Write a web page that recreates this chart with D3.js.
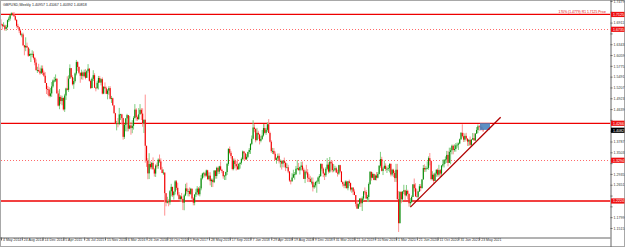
<!DOCTYPE html>
<html><head><meta charset="utf-8">
<script src="https://cdn.jsdelivr.net/npm/d3@7"></script>
<style>html,body{margin:0;padding:0;background:#fff;}svg{display:block;font-family:"Liberation Sans",Arial,sans-serif;}</style>
</head><body><svg id="c" width="625" height="247"></svg>
<script>
const titleText = "GBPUSD,Weekly  1.40957 1.41067 1.40392 1.40818";
const firstOpen = 1.6880;
const closes = [1.6865,1.6815,1.6835,1.6745,1.6795,1.6975,1.7015,1.7105,1.7155,1.7110,
1.7080,1.6985,1.6825,1.6790,1.6700,1.6590,1.6600,1.6315,1.6260,1.6300,
1.6255,1.6040,1.6085,1.6085,1.6090,1.5985,1.5860,1.5665,1.5665,1.5635,
1.5580,1.5705,1.5595,1.5515,1.5325,1.5165,1.5155,1.4985,1.5050,1.5235,
1.5390,1.5390,1.5435,1.5050,1.4730,1.4960,1.4850,1.4930,1.4630,1.4995,
1.5180,1.5145,1.5440,1.5715,1.5480,1.5290,1.5375,1.5575,1.5875,1.5745,
1.5595,1.5515,1.5600,1.5505,1.5605,1.5460,1.5635,1.5700,1.5380,1.5190,
1.5435,1.5530,1.5200,1.5190,1.5330,1.5455,1.5335,1.5425,1.5045,1.5225,
1.5185,1.5040,1.5125,1.5190,1.4910,1.4925,1.4735,1.4530,1.4250,1.4265,
1.4245,1.4500,1.4500,1.4400,1.3910,1.4225,1.4395,1.4480,1.4125,1.4210,
1.4140,1.4200,1.4405,1.4625,1.4425,1.4375,1.4500,1.4620,1.4520,1.4265,
1.4360,1.3675,1.3285,1.2950,1.3195,1.3110,1.3225,1.3055,1.2945,1.3155,
1.3145,1.3310,1.3265,1.3050,1.2960,1.2970,1.2430,1.2180,1.2215,1.2190,
1.2480,1.2595,1.2375,1.2470,1.2740,1.2570,1.2390,1.2275,1.2345,1.2280,
1.2180,1.2370,1.2555,1.2480,1.2485,1.2410,1.2545,1.2290,1.2180,1.2395,
1.2450,1.2550,1.2400,1.2555,1.2820,1.2945,1.2950,1.2890,1.3030,1.2800,
1.2890,1.2745,1.2780,1.2720,1.3025,1.2880,1.3095,1.2995,1.3135,1.3045,
1.3010,1.2875,1.2890,1.2985,1.3200,1.3590,1.3490,1.3405,1.3065,1.3285,
1.3195,1.3135,1.3060,1.3195,1.3230,1.3325,1.3525,1.3475,1.3320,1.3385,
1.3510,1.3565,1.3725,1.3860,1.4155,1.4115,1.3820,1.4015,1.3970,1.3805,
1.3855,1.3945,1.4140,1.4015,1.4095,1.4240,1.4010,1.3780,1.3535,1.3540,
1.3465,1.3305,1.3345,1.3410,1.3270,1.3270,1.3205,1.3285,1.3225,1.3105,
1.3110,1.3000,1.2760,1.2745,1.2840,1.2925,1.2925,1.3070,1.3085,1.3030,
1.3120,1.3155,1.3045,1.2805,1.2995,1.2975,1.2835,1.2805,1.2725,1.2730,
1.2585,1.2635,1.2725,1.2735,1.2840,1.2880,1.3195,1.3075,1.2945,1.2900,
1.3070,1.3180,1.2995,1.3255,1.3210,1.3035,1.3045,1.3085,1.2970,1.2945,
1.3165,1.3000,1.2720,1.2665,1.2625,1.2735,1.2560,1.2740,1.2695,1.2525,
1.2575,1.2470,1.2380,1.2150,1.2025,1.2140,1.2290,1.2165,1.2290,1.2475,
1.2460,1.2290,1.2330,1.2670,1.2990,1.2835,1.2935,1.2775,1.2895,1.2835,
1.2935,1.3150,1.3325,1.3015,1.3075,1.3150,1.3065,1.3070,1.3085,1.3200,
1.2920,1.3045,1.2960,1.2825,1.3045,1.2270,1.1640,1.2460,1.2270,1.2470,
1.2505,1.2370,1.2490,1.2410,1.2165,1.2200,1.2330,1.2660,1.2560,1.2345,
1.2335,1.2475,1.2610,1.2565,1.2790,1.3090,1.3055,1.3085,1.3095,1.3350,
1.3275,1.2800,1.2915,1.2750,1.2945,1.3045,1.2915,1.3035,1.2945,1.3155,
1.3190,1.3310,1.3315,1.3435,1.3225,1.3515,1.3555,1.3675,1.3565,1.3590,
1.3685,1.3705,1.3735,1.3845,1.4015,1.3925,1.3835,1.3935,1.3865,1.3785,
1.3830,1.3700,1.3840,1.3875,1.3815,1.3995,1.4090,1.4185,1.4180,1.4165,
1.4110,1.4082];
const highs = [1.6996,1.6880,1.6920,1.6860,1.6850,1.6990,1.7065,1.7110,1.7180,1.7180,
1.7190,1.7105,1.6995,1.6880,1.6800,1.6740,1.6645,1.6645,1.6320,1.6525,
1.6385,1.6265,1.6225,1.6110,1.6185,1.6155,1.6010,1.5945,1.5750,1.5830,
1.5730,1.5785,1.5785,1.5650,1.5610,1.5320,1.5250,1.5220,1.5195,1.5350,
1.5420,1.5485,1.5550,1.5450,1.5125,1.5165,1.5005,1.4990,1.4950,1.5040,
1.5200,1.5500,1.5525,1.5815,1.5710,1.5525,1.5465,1.5600,1.5930,1.5895,
1.5760,1.5570,1.5675,1.5630,1.5675,1.5690,1.5660,1.5820,1.5720,1.5415,
1.5470,1.5660,1.5580,1.5220,1.5385,1.5510,1.5510,1.5445,1.5470,1.5240,
1.5340,1.5230,1.5165,1.5240,1.5240,1.4985,1.4940,1.4745,1.4540,1.4330,
1.4405,1.4670,1.4515,1.4515,1.4410,1.4245,1.4400,1.4515,1.4455,1.4460,
1.4300,1.4350,1.4450,1.4770,1.4665,1.4470,1.4665,1.4770,1.4665,1.4660,
1.4355,1.5020,1.3535,1.3350,1.3480,1.3265,1.3255,1.3370,1.3090,1.3190,
1.3235,1.3345,1.3445,1.3345,1.3120,1.3055,1.2975,1.2420,1.2335,1.2270,
1.2510,1.2675,1.2575,1.2480,1.2775,1.2775,1.2705,1.2460,1.2380,1.2435,
1.2280,1.2415,1.2675,1.2705,1.2545,1.2580,1.2570,1.2555,1.2325,1.2400,
1.2545,1.2615,1.2590,1.2615,1.2905,1.2965,1.2990,1.2990,1.3050,1.3045,
1.2975,1.2980,1.2815,1.2815,1.3030,1.3030,1.3125,1.3125,1.3150,1.3265,
1.3070,1.3000,1.2900,1.2995,1.3225,1.3615,1.3655,1.3540,1.3400,1.3340,
1.3340,1.3280,1.3320,1.3215,1.3240,1.3365,1.3550,1.3535,1.3490,1.3455,
1.3520,1.3615,1.3740,1.3945,1.4345,1.4240,1.4140,1.4145,1.4070,1.3990,
1.3930,1.4090,1.4245,1.4245,1.4145,1.4290,1.4377,1.4045,1.3820,1.3620,
1.3615,1.3525,1.3370,1.3470,1.3475,1.3315,1.3305,1.3290,1.3365,1.3260,
1.3215,1.3175,1.3005,1.2780,1.2955,1.3045,1.2985,1.3145,1.3300,1.3225,
1.3125,1.3255,1.3260,1.3100,1.3045,1.3175,1.3060,1.2930,1.2885,1.2840,
1.2840,1.2700,1.2735,1.2765,1.2865,1.2930,1.3215,1.3215,1.3105,1.2970,
1.3110,1.3350,1.3240,1.3380,1.3290,1.3285,1.3195,1.3150,1.3125,1.3045,
1.3175,1.3175,1.3000,1.2745,1.2710,1.2765,1.2760,1.2750,1.2785,1.2710,
1.2580,1.2590,1.2530,1.2380,1.2250,1.2160,1.2275,1.2310,1.2345,1.2480,
1.2580,1.2515,1.2385,1.2710,1.3010,1.2995,1.2975,1.2940,1.2925,1.2985,
1.2985,1.3165,1.3515,1.3385,1.3115,1.3285,1.3215,1.3120,1.3170,1.3215,
1.3210,1.3070,1.3070,1.3015,1.3200,1.3200,1.2485,1.2485,1.2485,1.2485,
1.2650,1.2520,1.2645,1.2520,1.2425,1.2300,1.2370,1.2670,1.2815,1.2690,
1.2545,1.2490,1.2670,1.2670,1.2800,1.3170,1.3185,1.3140,1.3265,1.3395,
1.3485,1.3285,1.3005,1.2955,1.2975,1.3055,1.3080,1.3175,1.3065,1.3165,
1.3310,1.3310,1.3395,1.3540,1.3540,1.3625,1.3625,1.3705,1.3705,1.3710,
1.3745,1.3760,1.3760,1.3865,1.4035,1.4240,1.4015,1.4000,1.4015,1.3865,
1.3850,1.3920,1.3840,1.4010,1.4005,1.4005,1.4165,1.4235,1.4220,1.4250,
1.4215,1.4135];
const lows = [1.6850,1.6730,1.6805,1.6695,1.6695,1.6760,1.6925,1.6960,1.7100,1.7090,
1.7060,1.6955,1.6780,1.6740,1.6635,1.6570,1.6525,1.6300,1.6052,1.6160,
1.6250,1.6010,1.6030,1.5875,1.6000,1.5940,1.5790,1.5645,1.5590,1.5610,
1.5540,1.5560,1.5535,1.5485,1.5325,1.5035,1.5005,1.4950,1.4950,1.4960,
1.5200,1.5340,1.5350,1.5070,1.4710,1.4635,1.4770,1.4740,1.4600,1.4565,
1.4880,1.5130,1.5090,1.5435,1.5450,1.5260,1.5170,1.5335,1.5525,1.5640,
1.5565,1.5330,1.5420,1.5410,1.5475,1.5420,1.5525,1.5595,1.5360,1.5165,
1.5235,1.5375,1.5200,1.5105,1.5160,1.5155,1.5330,1.5260,1.5025,1.5030,
1.5170,1.5030,1.4895,1.5015,1.4895,1.4800,1.4735,1.4520,1.4240,1.4080,
1.4160,1.4215,1.4350,1.4230,1.3835,1.3855,1.4055,1.4050,1.4055,1.4110,
1.3965,1.4005,1.4100,1.4385,1.4330,1.4330,1.4355,1.4505,1.4350,1.4175,
1.4010,1.3230,1.3120,1.2795,1.2800,1.3060,1.3055,1.3055,1.2865,1.2855,
1.3075,1.3070,1.3225,1.3055,1.2955,1.2910,1.1840,1.2085,1.2160,1.2085,
1.2125,1.2345,1.2330,1.2260,1.2395,1.2510,1.2350,1.2250,1.2200,1.2200,
1.1985,1.1980,1.2350,1.2410,1.2345,1.2345,1.2385,1.2255,1.2110,1.2110,
1.2330,1.2375,1.2365,1.2345,1.2505,1.2790,1.2840,1.2845,1.2860,1.2775,
1.2770,1.2635,1.2590,1.2590,1.2695,1.2810,1.2810,1.2930,1.2935,1.3020,
1.2955,1.2810,1.2775,1.2775,1.2910,1.3150,1.3450,1.3340,1.3030,1.3030,
1.3090,1.3025,1.3040,1.3040,1.3075,1.3180,1.3290,1.3300,1.3300,1.3300,
1.3355,1.3460,1.3460,1.3690,1.3845,1.4030,1.3765,1.3845,1.3855,1.3710,
1.3765,1.3830,1.3915,1.3990,1.3960,1.4045,1.4005,1.3760,1.3490,1.3460,
1.3445,1.3305,1.3205,1.3295,1.3210,1.3105,1.3050,1.3110,1.3105,1.3010,
1.3085,1.2955,1.2725,1.2660,1.2725,1.2825,1.2785,1.2910,1.3035,1.3030,
1.2920,1.3025,1.3005,1.2800,1.2695,1.2920,1.2725,1.2720,1.2720,1.2660,
1.2475,1.2545,1.2580,1.2440,1.2675,1.2670,1.2855,1.3005,1.2850,1.2775,
1.2855,1.3035,1.2945,1.2960,1.3000,1.2975,1.2980,1.3010,1.2970,1.2865,
1.2910,1.2970,1.2720,1.2605,1.2560,1.2560,1.2555,1.2505,1.2615,1.2475,
1.2440,1.2380,1.2380,1.2080,1.2015,1.2015,1.2075,1.2065,1.1960,1.2235,
1.2390,1.2270,1.2200,1.2195,1.2645,1.2760,1.2820,1.2770,1.2765,1.2765,
1.2820,1.2920,1.3100,1.3000,1.2905,1.3070,1.3010,1.2960,1.3010,1.2975,
1.2870,1.2875,1.2850,1.2725,1.2725,1.2265,1.1410,1.1640,1.2165,1.2205,
1.2405,1.2245,1.2345,1.2265,1.2075,1.2075,1.2165,1.2350,1.2470,1.2335,
1.2335,1.2250,1.2460,1.2480,1.2545,1.2790,1.2985,1.2990,1.3055,1.3045,
1.3160,1.2765,1.2765,1.2675,1.2765,1.2860,1.2865,1.2865,1.2855,1.2855,
1.3110,1.3105,1.3205,1.3225,1.3135,1.3225,1.3190,1.3450,1.3450,1.3520,
1.3520,1.3625,1.3565,1.3715,1.3830,1.3890,1.3775,1.3780,1.3810,1.3670,
1.3670,1.3670,1.3670,1.3825,1.3820,1.3800,1.3990,1.4005,1.4070,1.4080,
1.4080,1.4040];

const dateTickIdx = [0,16,32,48,64,80,96,112,128,144,160,176,192,208,224,240,256,272,288,304,320,336,352,368];
const dateTickLabels = ["4 May 2014","24 Aug 2014","14 Dec 2014","5 Apr 2015","26 Jul 2015","15 Nov 2015","6 Mar 2016","26 Jun 2016","16 Oct 2016","5 Feb 2017","28 May 2017","17 Sep 2017","7 Jan 2018","29 Apr 2018","19 Aug 2018","9 Dec 2018","31 Mar 2019","21 Jul 2019","10 Nov 2019","1 Mar 2020","21 Jun 2020","11 Oct 2020","31 Jan 2021","23 May 2021"];
const priceTicks = [1.7479,1.7195,1.6911,1.6627,1.6343,1.6059,1.5775,1.5491,1.5207,1.4923,1.4639,1.4355,1.4071,1.3787,1.3503,1.3219,1.2935,1.2651,1.2367,1.2083,1.1799,1.1515];
const levelPrices = [1.7125,1.6735,1.4266,1.3294,1.2224];
const levelDotted = [false,true,false,true,false];
const levelNote = "170%  (1.4779)  R1  1.7125  Price";
const trendIdx = [315, 384.5];
const trendPrice = [1.2062, 1.4425];
const boxIdx = [368.6, 376.3];
const boxPrice = [1.4270, 1.4092];

const svg = d3.select("#c");
const W = 625, H = 247, plotL = 1, plotR = 610.5, plotB = 237.5;
const x = d3.scaleLinear().domain([0, 368]).range([1, 479.2]);
const y = d3.scaleLinear().domain([1.1278, 1.7505]).range([237, 0]);
const snap = v => Math.round(v) + 0.5;

svg.append("rect").attr("x",0.5).attr("y",0.5).attr("width",W-1).attr("height",H-1).attr("fill","#fff").attr("stroke","#a8a8a8");

const plot = svg.append("g");
plot.append("clipPath").attr("id","pc").append("rect").attr("x",plotL).attr("y",1).attr("width",plotR-plotL).attr("height",plotB-1);
const pg = plot.append("g").attr("clip-path","url(#pc)");

// horizontal levels
levelPrices.forEach((p,k)=>{
  const yy = levelDotted[k] ? snap(y(p)) : y(p);
  pg.append("line").attr("x1",plotL).attr("x2",plotR).attr("y1",yy).attr("y2",yy)
    .attr("stroke", levelDotted[k] ? "#ff6a6a" : "#ee0000")
    .attr("stroke-width", levelDotted[k] ? 1 : 1.3)
    .attr("stroke-dasharray", levelDotted[k] ? "1,2" : null);
});

// candles
const data = closes.map((c,i)=>({i, o: i===0?firstOpen:closes[i-1], c, h: highs[i], l: lows[i]}));
const cg = pg.append("g");
cg.selectAll("line.w").data(data).join("line").attr("class","w")
  .attr("x1",d=>x(d.i)).attr("x2",d=>x(d.i))
  .attr("y1",d=>y(Math.max(d.h,d.o,d.c))).attr("y2",d=>y(Math.min(d.l,d.o,d.c)))
  .attr("stroke",d=>d.c>=d.o?"#7fcc7f":"#ff9090").attr("stroke-width",1);
cg.selectAll("rect.b").data(data).join("rect").attr("class","b")
  .attr("x",d=>x(d.i)-0.55).attr("width",1.1)
  .attr("y",d=>y(Math.max(d.o,d.c)))
  .attr("height",d=>Math.max(0.8, Math.abs(y(d.o)-y(d.c))))
  .attr("fill",d=>d.c>=d.o?"#078807":"#f00000");

// box
pg.append("rect").attr("x",x(boxIdx[0])).attr("width",x(boxIdx[1])-x(boxIdx[0]))
  .attr("y",y(boxPrice[0])).attr("height",y(boxPrice[1])-y(boxPrice[0]))
  .attr("fill","#4a84bf").attr("opacity",0.9);

// trend line
pg.append("line").attr("x1",x(trendIdx[0])).attr("y1",y(trendPrice[0]))
  .attr("x2",x(trendIdx[1])).attr("y2",y(trendPrice[1]))
  .attr("stroke","#b00000").attr("stroke-width",1.3);

// level note
pg.append("text").attr("x",606).attr("y",y(levelPrices[0])-1.2).attr("text-anchor","end")
  .attr("font-size",3.4).attr("fill","#e00000").text(levelNote);

// title
svg.append("text").attr("x",3).attr("y",5.5).attr("font-size",3.6).attr("fill","#222").text(titleText);

// bottom axis
const xa = svg.append("g").attr("transform",`translate(0,${plotB})`)
  .call(d3.axisBottom(x).tickValues(dateTickIdx).tickSize(3).tickFormat((d,k)=>dateTickLabels[k]));
xa.select(".domain").attr("d",`M0,0.5H${plotR}`).attr("stroke","#666");
xa.selectAll(".tick line").attr("stroke","#666");
xa.selectAll(".tick text").attr("text-anchor","start").attr("dx",1.5).attr("y",1.2).attr("dy","0.71em")
  .attr("font-size",3.5).attr("fill","#333").attr("font-family","Liberation Sans, Arial, sans-serif");

// right axis
const last = closes[closes.length-1];
const labelled = levelPrices.concat([last]);
const ya = svg.append("g").attr("transform",`translate(${plotR},0)`)
  .call(d3.axisRight(y).tickValues(priceTicks).tickSize(2).tickFormat(d3.format(".4f")));
ya.select(".domain").attr("d",`M0.5,0V${H}`).attr("stroke","#666");
ya.selectAll(".tick line").attr("stroke","#666");
ya.selectAll(".tick text").attr("x",3).attr("font-size",3.6).attr("fill","#333").attr("font-family","Liberation Sans, Arial, sans-serif");
ya.selectAll(".tick").filter(d=>labelled.some(p=>Math.abs(y(p)-y(d))<5.6)).select("text").remove();

// level labels
const lab = svg.append("g");
levelPrices.forEach((p,k)=>{
  lab.append("rect").attr("x",plotR+0.5).attr("y",y(p)-2.6).attr("width",W-plotR-1).attr("height",5.2).attr("fill","#ee1111");
  lab.append("text").attr("x",plotR+2.5).attr("y",y(p)+1.3).attr("font-size",3.6).attr("fill","#fff").text(p.toFixed(4));
});
lab.append("rect").attr("x",plotR+0.5).attr("y",y(last)-2.6).attr("width",W-plotR-1).attr("height",5.2).attr("fill","#000");
lab.append("text").attr("x",plotR+2.5).attr("y",y(last)+1.3).attr("font-size",3.6).attr("fill","#fff").text(last.toFixed(4));
</script></body></html>
